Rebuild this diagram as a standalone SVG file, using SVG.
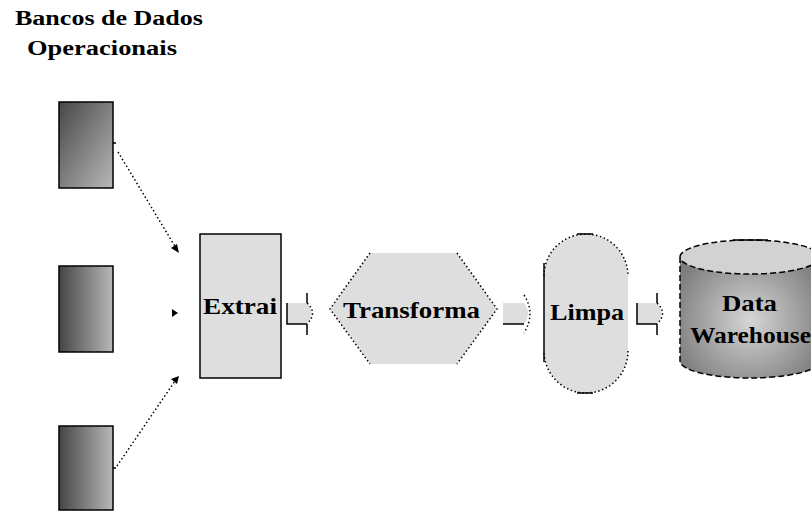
<svg xmlns="http://www.w3.org/2000/svg" width="811" height="512" viewBox="0 0 811 512">
<style>
text{font-family:"Liberation Serif","Times New Roman",serif;font-weight:bold;fill:#000}
.t{font-size:20px}
.n{font-size:24px}
.box{stroke:#000;stroke-width:1.5}
.dot{fill:none;stroke:#000;stroke-width:1.5;stroke-dasharray:1.5 2.5}
.sol{fill:none;stroke:#000;stroke-width:1.5}
.fillg{fill:#dedede}
.ah{fill:#000}
</style>
<defs>
<linearGradient id="gDiag" x1="0" y1="0" x2="1" y2="1">
<stop offset="0" stop-color="#474747"/><stop offset="1" stop-color="#b8b8b8"/>
</linearGradient>
<linearGradient id="gHor" x1="0" y1="0" x2="1" y2="0">
<stop offset="0" stop-color="#454545"/><stop offset="1" stop-color="#b8b8b8"/>
</linearGradient>
<radialGradient id="gCyl" cx="750" cy="320" r="80" gradientUnits="userSpaceOnUse">
<stop offset="0" stop-color="#d6d6d6"/><stop offset="1" stop-color="#7e7e7e"/>
</radialGradient>
</defs>

<g id="title">
<text class="t" x="15" y="25" textLength="188" lengthAdjust="spacingAndGlyphs">Bancos de Dados</text>
<text class="t" x="27" y="55" textLength="150" lengthAdjust="spacingAndGlyphs">Operacionais</text>
</g>

<g id="db1"><rect class="box" x="59" y="102" width="54" height="86" fill="url(#gDiag)"/></g>
<g id="db2"><rect class="box" x="59" y="266" width="54" height="86" fill="url(#gHor)"/></g>
<g id="db3"><rect class="box" x="59" y="426" width="54" height="84" fill="url(#gHor)"/></g>

<g id="extrai">
<rect class="box" x="200" y="234" width="81" height="144" fill="#dedede"/>
<text class="n" x="203" y="314" textLength="74" lengthAdjust="spacingAndGlyphs">Extrai</text>
</g>

<g id="transforma">
<polygon class="fillg" points="330,309 370,253 457,253 497,309 457,364 370,364"/>
<path class="dot" d="M370,253 L330,309 L370,364 M457,253 L497,309 L457,364"/>
<text class="n" x="343" y="318" textLength="137" lengthAdjust="spacingAndGlyphs">Transforma</text>
</g>

<g id="limpa">
<rect class="fillg" x="544" y="234" width="84" height="159" rx="42" ry="42"/>
<path class="dot" d="M544,276 A42,42 0 0 1 628,276 M628,351 A42,42 0 0 1 544,351"/>
<path class="sol" d="M544,263 V362 M577,234 H593 M577,393 H593"/>
<text class="n" x="550" y="320" textLength="74" lengthAdjust="spacingAndGlyphs">Limpa</text>
</g>

<g id="dw">
<path d="M680,257 V361 A70,17 0 0 0 820,361 V257 Z" fill="url(#gCyl)"/>
<ellipse cx="750" cy="257" rx="70" ry="17" fill="#d2d2d2"/>
<path fill="none" stroke="#000" stroke-width="1.5" stroke-dasharray="6 3" d="M680,257 V361 A70,17 0 0 0 820,361 M680,257 A70,17 0 0 1 820,257 A70,17 0 0 1 680,257"/>
<path class="sol" d="M733,240 H768"/>
<text class="n" x="722" y="311" textLength="55" lengthAdjust="spacingAndGlyphs">Data</text>
<text class="n" x="690" y="343" textLength="121" lengthAdjust="spacingAndGlyphs">Warehouse</text>
</g>

<g id="connectors">
<path class="sol" d="M113,143 h3 M113,468 h3"/>
<path class="dot" d="M118,152 L176,248"/>
<polygon class="ah" points="179,253 171,248 177,244"/>
<polygon class="ah" points="178,313 172,309 172,317"/>
<path class="dot" d="M117,466 L175,381"/>
<polygon class="ah" points="179,376 177,384 171,379"/>

<path class="fillg" d="M287,303 H307 Q316,313 307,324 H287 Z"/>
<path class="sol" d="M287,303 V324 H307 M307,293 V303 M307,324 V335"/>
<path class="dot" d="M307,303 Q318,313 307,324"/>

<path class="fillg" d="M503,303 H524 Q532,313 524,324 H503 Z"/>
<path class="sol" d="M503,324 H524"/>
<path class="dot" d="M524,295 Q536,313 524,333"/>

<path class="fillg" d="M637,303 H657 Q666,313 657,324 H637 Z"/>
<path class="sol" d="M637,303 V324 H657 M657,293 V303 M657,324 V335"/>
<path class="dot" d="M657,303 Q668,313 657,324"/>
</g>
</svg>
